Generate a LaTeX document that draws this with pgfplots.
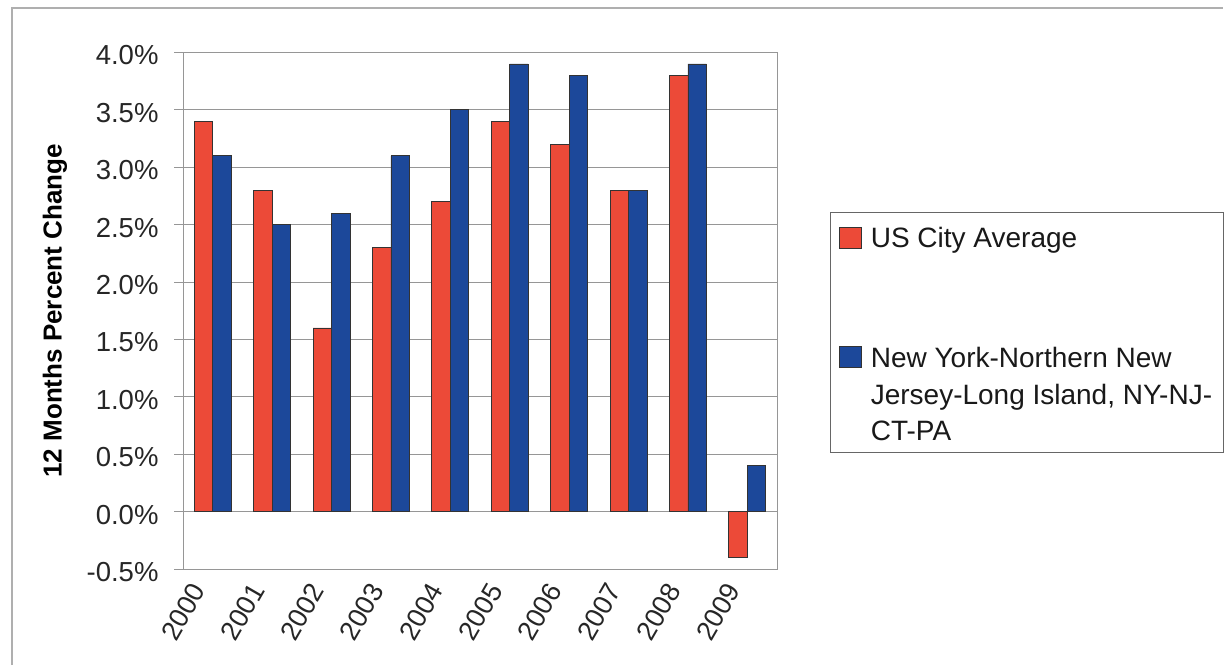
\documentclass[border=0pt]{standalone}
\usepackage{pgfplots}
\pgfplotsset{compat=1.18}
\usepackage{fontspec}
\setmainfont{Liberation Sans}

\definecolor{usred}{RGB}{236,74,56}
\definecolor{nyblue}{RGB}{28,72,154}
\definecolor{gridgray}{RGB}{150,150,150}
\definecolor{framegray}{RGB}{175,175,175}

% 12-month percent change, CPI
\pgfplotstableread{
idx year  us    ny
0   2000  3.4   3.1
1   2001  2.8   2.5
2   2002  1.6   2.6
3   2003  2.3   3.1
4   2004  2.7   3.5
5   2005  3.4   3.9
6   2006  3.2   3.8
7   2007  2.8   2.8
8   2008  3.8   3.9
9   2009  -0.4  0.4
}\cpidata

% legend swatches: a square level with the first text line of each entry
% (text cells sit on their baseline; the NY entry's baseline is its last line)
\pgfplotsset{
  uskey/.style={legend image code/.code={\path[draw=none,fill=none] (0pt,0pt) -- (29pt,0pt);
    \draw[##1] (0pt,-1pt) rectangle (22pt,20pt);}},
  nykey/.style={legend image code/.code={\path[draw=none,fill=none] (0pt,0pt) -- (29pt,0pt);
    \draw[##1] (0pt,74pt) rectangle (22pt,95pt);}},
}

\begin{document}
\begin{tikzpicture}
\path[use as bounding box] (0pt,0pt) rectangle (1230pt,665pt);
% outer chart frame (top and left edges)
\draw[framegray, line width=1.5pt] (12pt,0pt) -- (12pt,657pt) -- (1223pt,657pt);
\begin{axis}[
  at={(183pt,96pt)}, anchor=south west,
  scale only axis, width=594pt, height=516.5pt,
  ybar=0pt, bar width=18.5pt,
  xmin=-0.5, xmax=9.5,
  ymin=-0.5, ymax=4.0,
  ytick={-0.5,0,...,4.0},
  xtick={0,...,9},
  xticklabels={2000,2001,2002,2003,2004,2005,2006,2007,2008,2009},
  x tick style={draw=none},
  y tick style={gridgray, line width=0.8pt},
  major tick length=9pt,
  tick align=outside,
  ytick pos=left,
  axis line style={gridgray, line width=0.8pt},
  ymajorgrids, major grid style={gridgray, line width=0.8pt},
  /pgf/number format/assume math mode=true,
  yticklabel={\pgfmathprintnumber[fixed,fixed zerofill,precision=1]{\tick}\%},
  yticklabel style={font=\fontsize{27.5}{32}\selectfont, text=black!85, xshift=-12pt, yshift=-3pt},
  xticklabel style={font=\fontsize{27}{30}\selectfont, text=black!85,
    rotate=60, anchor=north east, inner sep=1pt, yshift=19pt, xshift=-13pt},
  ylabel={\bfseries 12 Months Percent Change},
  ylabel style={font=\fontsize{26}{30}\selectfont, at={(axis description cs:-0.2155,0.5)}, anchor=center},
  legend cell align=left,
  legend style={at={(1.0892,0.6912)}, anchor=north west,
    draw=black!60, line width=0.8pt, fill=white,
    font=\fontsize{28}{36.5}\selectfont, text=black!90,
    inner xsep=9pt, inner ysep=10pt, row sep=93.5pt,
    nodes={anchor=base west, inner xsep=2pt, inner ysep=0pt}},
]
\addplot[fill=usred, draw=black!80, line width=0.8pt, uskey]
  table[x=idx, y=us] {\cpidata};
\addlegendentry{\rule{0pt}{25pt}US City Average}
\addplot[fill=nyblue, draw=black!80, line width=0.8pt, nykey]
  table[x=idx, y=ny] {\cpidata};
\addlegendentry{\raisebox{0pt}[\height][0pt]{\begin{tabular}[b]{@{}l@{}}New York-Northern New\\Jersey-Long Island, NY-NJ-\\CT-PA\end{tabular}}}
\end{axis}
\end{tikzpicture}
\end{document}
